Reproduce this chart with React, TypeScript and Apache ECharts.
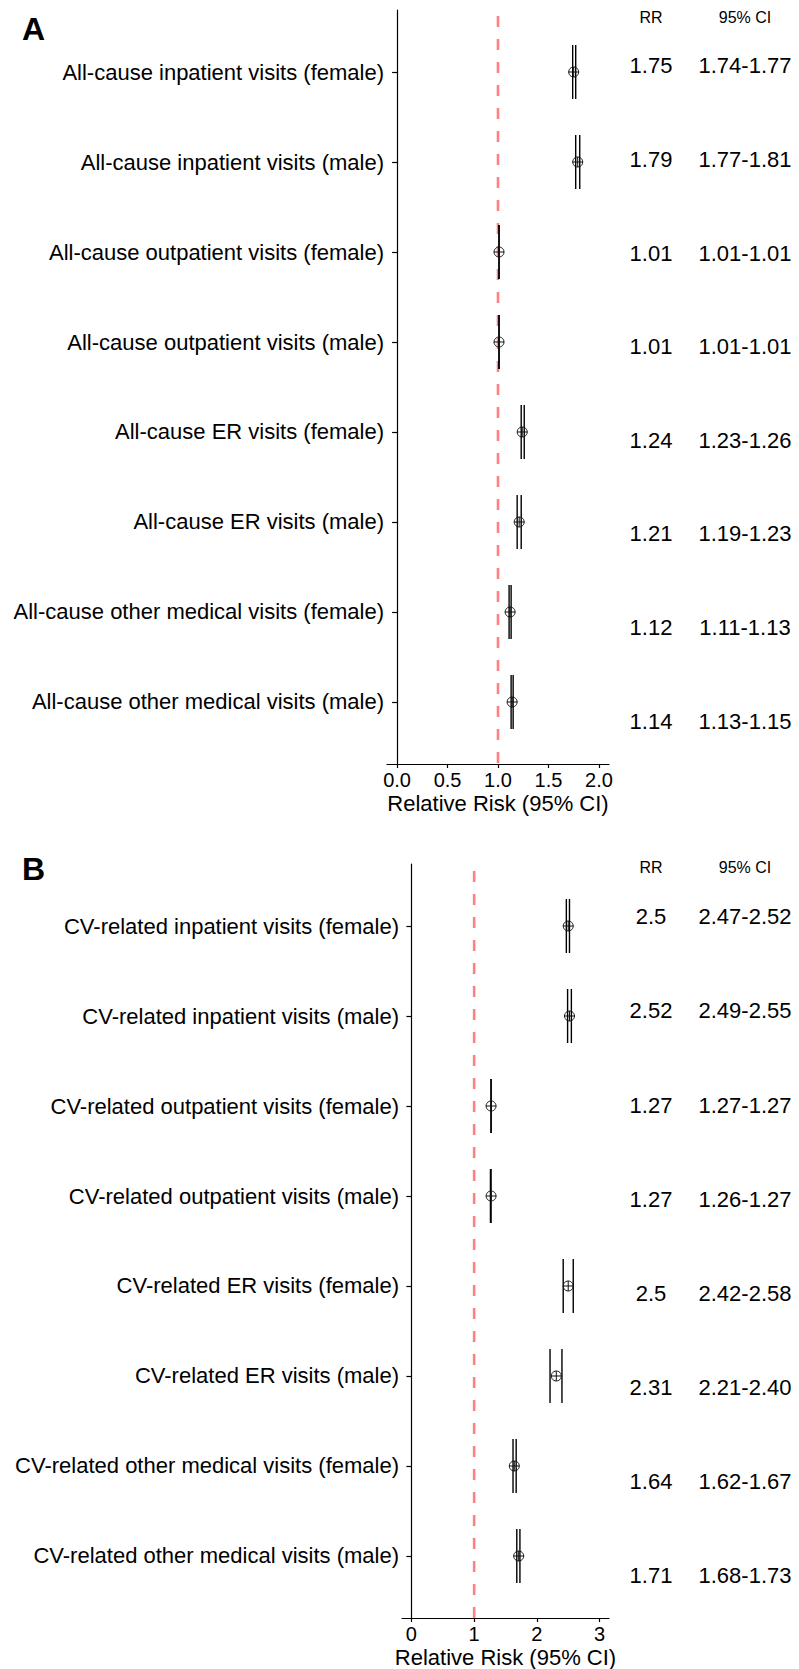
import React, { useEffect, useRef } from "react";
import * as echarts from "echarts";

// ---------- Data ----------
const labelsA = [
  "All-cause inpatient visits (female)",
  "All-cause inpatient visits (male)",
  "All-cause outpatient visits (female)",
  "All-cause outpatient visits (male)",
  "All-cause ER visits (female)",
  "All-cause ER visits (male)",
  "All-cause other medical visits (female)",
  "All-cause other medical visits (male)",
];
const rrA = [1.75, 1.79, 1.01, 1.01, 1.24, 1.21, 1.12, 1.14];
const lowA = [1.74, 1.77, 1.01, 1.01, 1.23, 1.19, 1.11, 1.13];
const highA = [1.77, 1.81, 1.01, 1.01, 1.26, 1.23, 1.13, 1.15];

const labelsB = [
  "CV-related inpatient visits (female)",
  "CV-related inpatient visits (male)",
  "CV-related outpatient visits (female)",
  "CV-related outpatient visits (male)",
  "CV-related ER visits (female)",
  "CV-related ER visits (male)",
  "CV-related other medical visits (female)",
  "CV-related other medical visits (male)",
];
const rrB = [2.5, 2.52, 1.27, 1.27, 2.5, 2.31, 1.64, 1.71];
const lowB = [2.47, 2.49, 1.27, 1.26, 2.42, 2.21, 1.62, 1.68];
const highB = [2.52, 2.55, 1.27, 1.27, 2.58, 2.4, 1.67, 1.73];

const ticksA = [0, 0.5, 1, 1.5, 2];
const ticksB = [0, 1, 2, 3];
const tableHeaders = ["RR", "95% CI"];
const refValue = 1;
const axisTitle = "Relative Risk (95% CI)";

// ---------- Helpers ----------
const FONT = '"Liberation Sans", Arial, Helvetica, sans-serif';

function forestRender(params: any, api: any) {
  const rr = api.value(0);
  const lo = api.value(1);
  const hi = api.value(2);
  const row = api.value(3);
  const loT = api.coord([lo, row - 0.3]);
  const loB = api.coord([lo, row + 0.3]);
  const hiT = api.coord([hi, row - 0.3]);
  const hiB = api.coord([hi, row + 0.3]);
  const c = api.coord([rr, row]);
  const r = 5;
  const ls = { stroke: "#000", lineWidth: 1.4 };
  const ps = { stroke: "#111", lineWidth: 1, fill: "none" };
  return {
    type: "group",
    children: [
      { type: "line", shape: { x1: loT[0], y1: loT[1], x2: loB[0], y2: loB[1] }, style: ls },
      { type: "line", shape: { x1: hiT[0], y1: hiT[1], x2: hiB[0], y2: hiB[1] }, style: ls },
      { type: "circle", shape: { cx: c[0], cy: c[1], r }, style: ps },
      { type: "line", shape: { x1: c[0] - r, y1: c[1], x2: c[0] + r, y2: c[1] }, style: ps },
      { type: "line", shape: { x1: c[0], y1: c[1] - r, x2: c[0], y2: c[1] + r }, style: ps },
    ],
  };
}

function makeTextRender(texts: string[]) {
  return (params: any, api: any) => {
    const p = api.coord([api.value(0), api.value(1)]);
    return {
      type: "text",
      x: p[0],
      y: p[1],
      style: {
        text: texts[params.dataIndex],
        fill: "#000",
        fontSize: 22,
        fontFamily: FONT,
        align: "center",
        verticalAlign: "middle",
      },
    };
  };
}

function panel(
  labels: string[],
  rr: number[],
  low: number[],
  high: number[],
  ticks: number[],
  tickDigits: number,
  xMin: number,
  xMax: number,
  yMin: number,
  yMax: number,
  tYMin: number,
  tYMax: number,
  idx: number,
  dashOffset: number
) {
  const g = idx * 2;
  const rows = labels.map((_, i) => i + 1);
  const xAxes = [
    {
      type: "value",
      gridIndex: g,
      min: xMin,
      max: xMax,
      splitLine: { show: false },
      axisLine: { show: true, lineStyle: { color: "#000", width: 1.2 } },
      axisTick: { show: true, length: 4, customValues: ticks, lineStyle: { color: "#000", width: 1.2 } },
      axisLabel: {
        customValues: ticks,
        formatter: (v: number) => v.toFixed(tickDigits),
        fontSize: 20,
        color: "#000",
        fontFamily: FONT,
        margin: 6,
      },
      name: axisTitle,
      nameLocation: "middle",
      nameGap: 28,
      nameTextStyle: { fontSize: 22, color: "#000", fontFamily: FONT },
    },
    {
      type: "category",
      gridIndex: g + 1,
      data: tableHeaders,
      position: "top",
      axisLine: { show: false },
      axisTick: { show: false },
      splitLine: { show: false },
      axisLabel: { fontSize: 16, color: "#000", fontFamily: FONT, margin: 5 },
    },
  ];
  const yAxes = [
    {
      type: "value",
      gridIndex: g,
      inverse: true,
      min: yMin,
      max: yMax,
      splitLine: { show: false },
      axisLine: { show: true, lineStyle: { color: "#000", width: 1.2 } },
      axisTick: { show: true, length: 5, customValues: rows, lineStyle: { color: "#000", width: 1.2 } },
      axisLabel: {
        customValues: rows,
        formatter: (v: number) => labels[Math.round(v) - 1] ?? "",
        fontSize: 22,
        color: "#000",
        fontFamily: FONT,
        margin: 3,
      },
    },
    {
      type: "value",
      gridIndex: g + 1,
      inverse: true,
      min: tYMin,
      max: tYMax,
      show: false,
    },
  ];
  const series = [
    {
      type: "line",
      xAxisIndex: g,
      yAxisIndex: g,
      data: [
        [refValue, yMin],
        [refValue, yMax],
      ],
      symbol: "none",
      silent: true,
      z: 1,
      lineStyle: { color: "#ff8080", width: 2.6, type: [11, 12], dashOffset },
    },
    {
      type: "custom",
      xAxisIndex: g,
      yAxisIndex: g,
      z: 3,
      renderItem: forestRender,
      encode: { x: [0, 1, 2], y: 3 },
      data: rows.map((r, i) => [rr[i], low[i], high[i], r]),
    },
    {
      type: "custom",
      xAxisIndex: g + 1,
      yAxisIndex: g + 1,
      renderItem: makeTextRender(rr.map((v) => String(v))),
      encode: { x: 0, y: 1 },
      data: rows.map((r) => [0, r]),
    },
    {
      type: "custom",
      xAxisIndex: g + 1,
      yAxisIndex: g + 1,
      renderItem: makeTextRender(low.map((v, i) => v.toFixed(2) + "-" + high[i].toFixed(2))),
      encode: { x: 0, y: 1 },
      data: rows.map((r) => [1, r]),
    },
  ];
  return { xAxes, yAxes, series };
}

export default function App() {
  const ref = useRef<HTMLDivElement>(null);
  useEffect(() => {
    document.body.style.margin = "0";
    if (!ref.current) return;
    const chart = echarts.init(ref.current, undefined, { renderer: "svg" });
    const pA = panel(labelsA, rrA, lowA, highA, ticksA, 1, -0.1, 2.1, 0.3111, 8.6889, 0.6153, 8.4595, 0, 17);
    const pB = panel(labelsB, rrB, lowB, highB, ticksB, 0, -0.15, 3.15, 0.3111, 8.6889, 0.6064, 8.4574, 1, 16);
    chart.setOption({
      animation: false,
      backgroundColor: "#fff",
      grid: [
        { left: 387, top: 10, width: 222, height: 754 },
        { left: 604, top: 30, width: 188, height: 734 },
        { left: 402, top: 864, width: 207, height: 754 },
        { left: 604, top: 880, width: 188, height: 738 },
      ],
      xAxis: [...pA.xAxes, ...pB.xAxes],
      yAxis: [...pA.yAxes, ...pB.yAxes],
      series: [...pA.series, ...pB.series],
      graphic: [
        {
          type: "text",
          x: 22,
          y: 29,
          style: { text: "A", fontSize: 32, fontWeight: "bold", fontFamily: FONT, fill: "#000", verticalAlign: "middle" },
        },
        {
          type: "text",
          x: 22,
          y: 869,
          style: { text: "B", fontSize: 32, fontWeight: "bold", fontFamily: FONT, fill: "#000", verticalAlign: "middle" },
        },
      ],
    });
    return () => chart.dispose();
  }, []);
  return (
    <div
      ref={ref}
      style={{ position: "absolute", left: 0, top: 0, width: 799, height: 1669, background: "#fff" }}
    />
  );
}
